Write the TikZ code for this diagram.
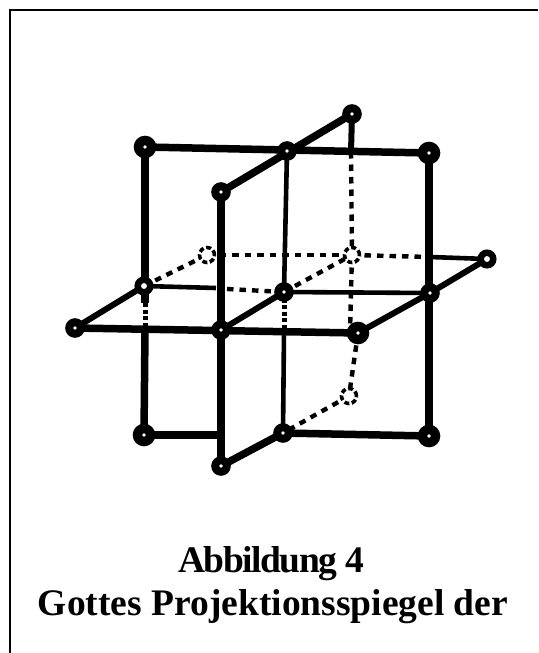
\documentclass[tikz,border=0pt]{standalone}
\usepackage{fontspec}
\setmainfont{Liberation Serif}
\tikzset{
  every picture/.style={line width=0.7pt},
  sframe/.style={line width=2.4pt},
  sthick/.style={line width=7.5pt},
  smid/.style={line width=6pt},
  sthin/.style={line width=4.6pt},
  shid/.style={line width=4.4pt, dash pattern=on 6.5pt off 6pt},
  sshort/.style={line width=5pt, dash pattern=on 4pt off 2.5pt},
  svertex/.style={circle, draw=black, fill=white, line width=8pt, inner sep=0pt, minimum size=11.5pt},
  svertexb/.style={svertex, line width=9.5pt, minimum size=13pt},
  svertexo/.style={svertex, line width=6.5pt, minimum size=12.5pt},
  shidden/.style={circle, draw=black, fill=white, line width=3.6pt, dash pattern=on 5pt off 2.6pt, inner sep=0pt, minimum size=15pt},
  scaption/.style={font=\fontsize{37.5}{44}\selectfont\bfseries},
}
\begin{document}
\begin{tikzpicture}[x=1pt,y=-1pt]
  \useasboundingbox (0,0) rectangle (538,653);
  \coordinate (frameBL) at (10,653);
  \coordinate (frameTL) at (10,10);
  \coordinate (frameTR) at (538,10);
  \draw[sframe] (frameBL) -- (frameTL) -- (frameTR);
  % corners of the back square
  \coordinate (TL) at (145,147);
  \coordinate (TR) at (429,153);
  \coordinate (BL) at (144,435);
  \coordinate (BR) at (429,436);
  \coordinate (Tm) at (287,151);
  \coordinate (Bm) at (283,433);
  \coordinate (Ml) at (144,286);
  \coordinate (Mr) at (430,293);
  \coordinate (C) at (284,292);
  % horizontal plane
  \coordinate (Hl) at (75,328);
  \coordinate (Hm) at (221,330);
  \coordinate (Hr) at (358,333);
  \coordinate (Hb) at (487,259);
  \coordinate (Hd) at (207,255);
  \coordinate (Hc) at (352,255);
  % vertical plane
  \coordinate (Vt) at (352,114);
  \coordinate (Vf) at (221,192);
  \coordinate (Vb) at (221,466);
  \coordinate (Vd) at (349,396);
  % points where a line goes behind a plane
  \coordinate (a1) at (145,303);
  \coordinate (a2) at (145,329);
  \coordinate (b1) at (221,435);
  \coordinate (c1) at (216,288);
  \coordinate (c2) at (227,289);
  \coordinate (d1) at (284,331);
  \coordinate (e1) at (351,152);
  \coordinate (e2) at (351,292);
  \coordinate (e3) at (350,333);
  \coordinate (f1) at (430,257);
  % thick lines
  \draw[sthick] (TL) -- (TR);
  \draw[sthick] (TR) -- (BR);
  \draw[sthick] (Bm) -- (BR);
  \draw[sthick] (BL) -- (b1);
  \draw[sthick] (TL) -- (a1);
  \draw[sthick] (a2) -- (BL);
  \draw[sthick] (Hl) -- (Hr);
  \draw[sthick] (Vf) -- (Vt);
  \draw[smid] (Vt) -- (e1);
  \draw[sthick] (Vb) -- (Bm);
  \draw[sthick] (Vf) -- (Vb);
  % thinner lines
  \draw[sthin] (Tm) -- (C);
  \draw[sthin] (d1) -- (Bm);
  \draw[sthin] (Ml) -- (c1);
  \draw[sthin] (C) -- (Mr);
  \draw[sthin] (f1) -- (Hb);
  \draw[smid] (Hl) -- (Ml);
  \draw[smid] (Hm) -- (C);
  \draw[smid] (Hr) -- (Mr);
  \draw[smid] (Mr) -- (Hb);
  % hidden lines
  \draw[shid] (e1) -- (Hc);
  \draw[shid] (Hc) -- (e2);
  \draw[shid] (e2) -- (e3);
  \draw[shid] (Hr) -- (Vd);
  \draw[shid] (Vd) -- (Bm);
  \draw[shid] (Hd) -- (Hc);
  \draw[shid] (Hc) -- (f1);
  \draw[shid] (Ml) -- (Hd);
  \draw[shid] (C) -- (Hc);
  \draw[shid] (c2) -- (C);
  \draw[sshort] (C) -- (d1);
  \draw[sshort] (a1) -- (a2);
  % vertices
  \node[svertexb] (nTL) at (TL) {};
  \node[svertexb] (nTR) at (TR) {};
  \node[svertexb] (nBL) at (BL) {};
  \node[svertexb] (nBR) at (BR) {};
  \node[svertex] (nTm) at (Tm) {};
  \node[svertex] (nBm) at (Bm) {};
  \node[svertexo] (nMl) at (Ml) {};
  \node[svertex] (nMr) at (Mr) {};
  \node[svertex] (nC) at (C) {};
  \node[svertex] (nHl) at (Hl) {};
  \node[svertex] (nHm) at (Hm) {};
  \node[svertexb] (nHr) at (Hr) {};
  \node[svertexo] (nHb) at (Hb) {};
  \node[svertex] (nVt) at (Vt) {};
  \node[svertex] (nVf) at (Vf) {};
  \node[svertex] (nVb) at (Vb) {};
  \node[shidden] (nHd) at (Hd) {};
  \node[shidden] (nHc) at (Hc) {};
  \node[shidden] (nVd) at (Vd) {};
  % caption
  \node[scaption, anchor=base] (capA) at (271,572) {\addfontfeature{LetterSpace=-3.9}Abbildung 4};
  \node[scaption, anchor=base] (capB) at (273,615) {Gottes Projektionsspiegel der};
\end{tikzpicture}
\end{document}
